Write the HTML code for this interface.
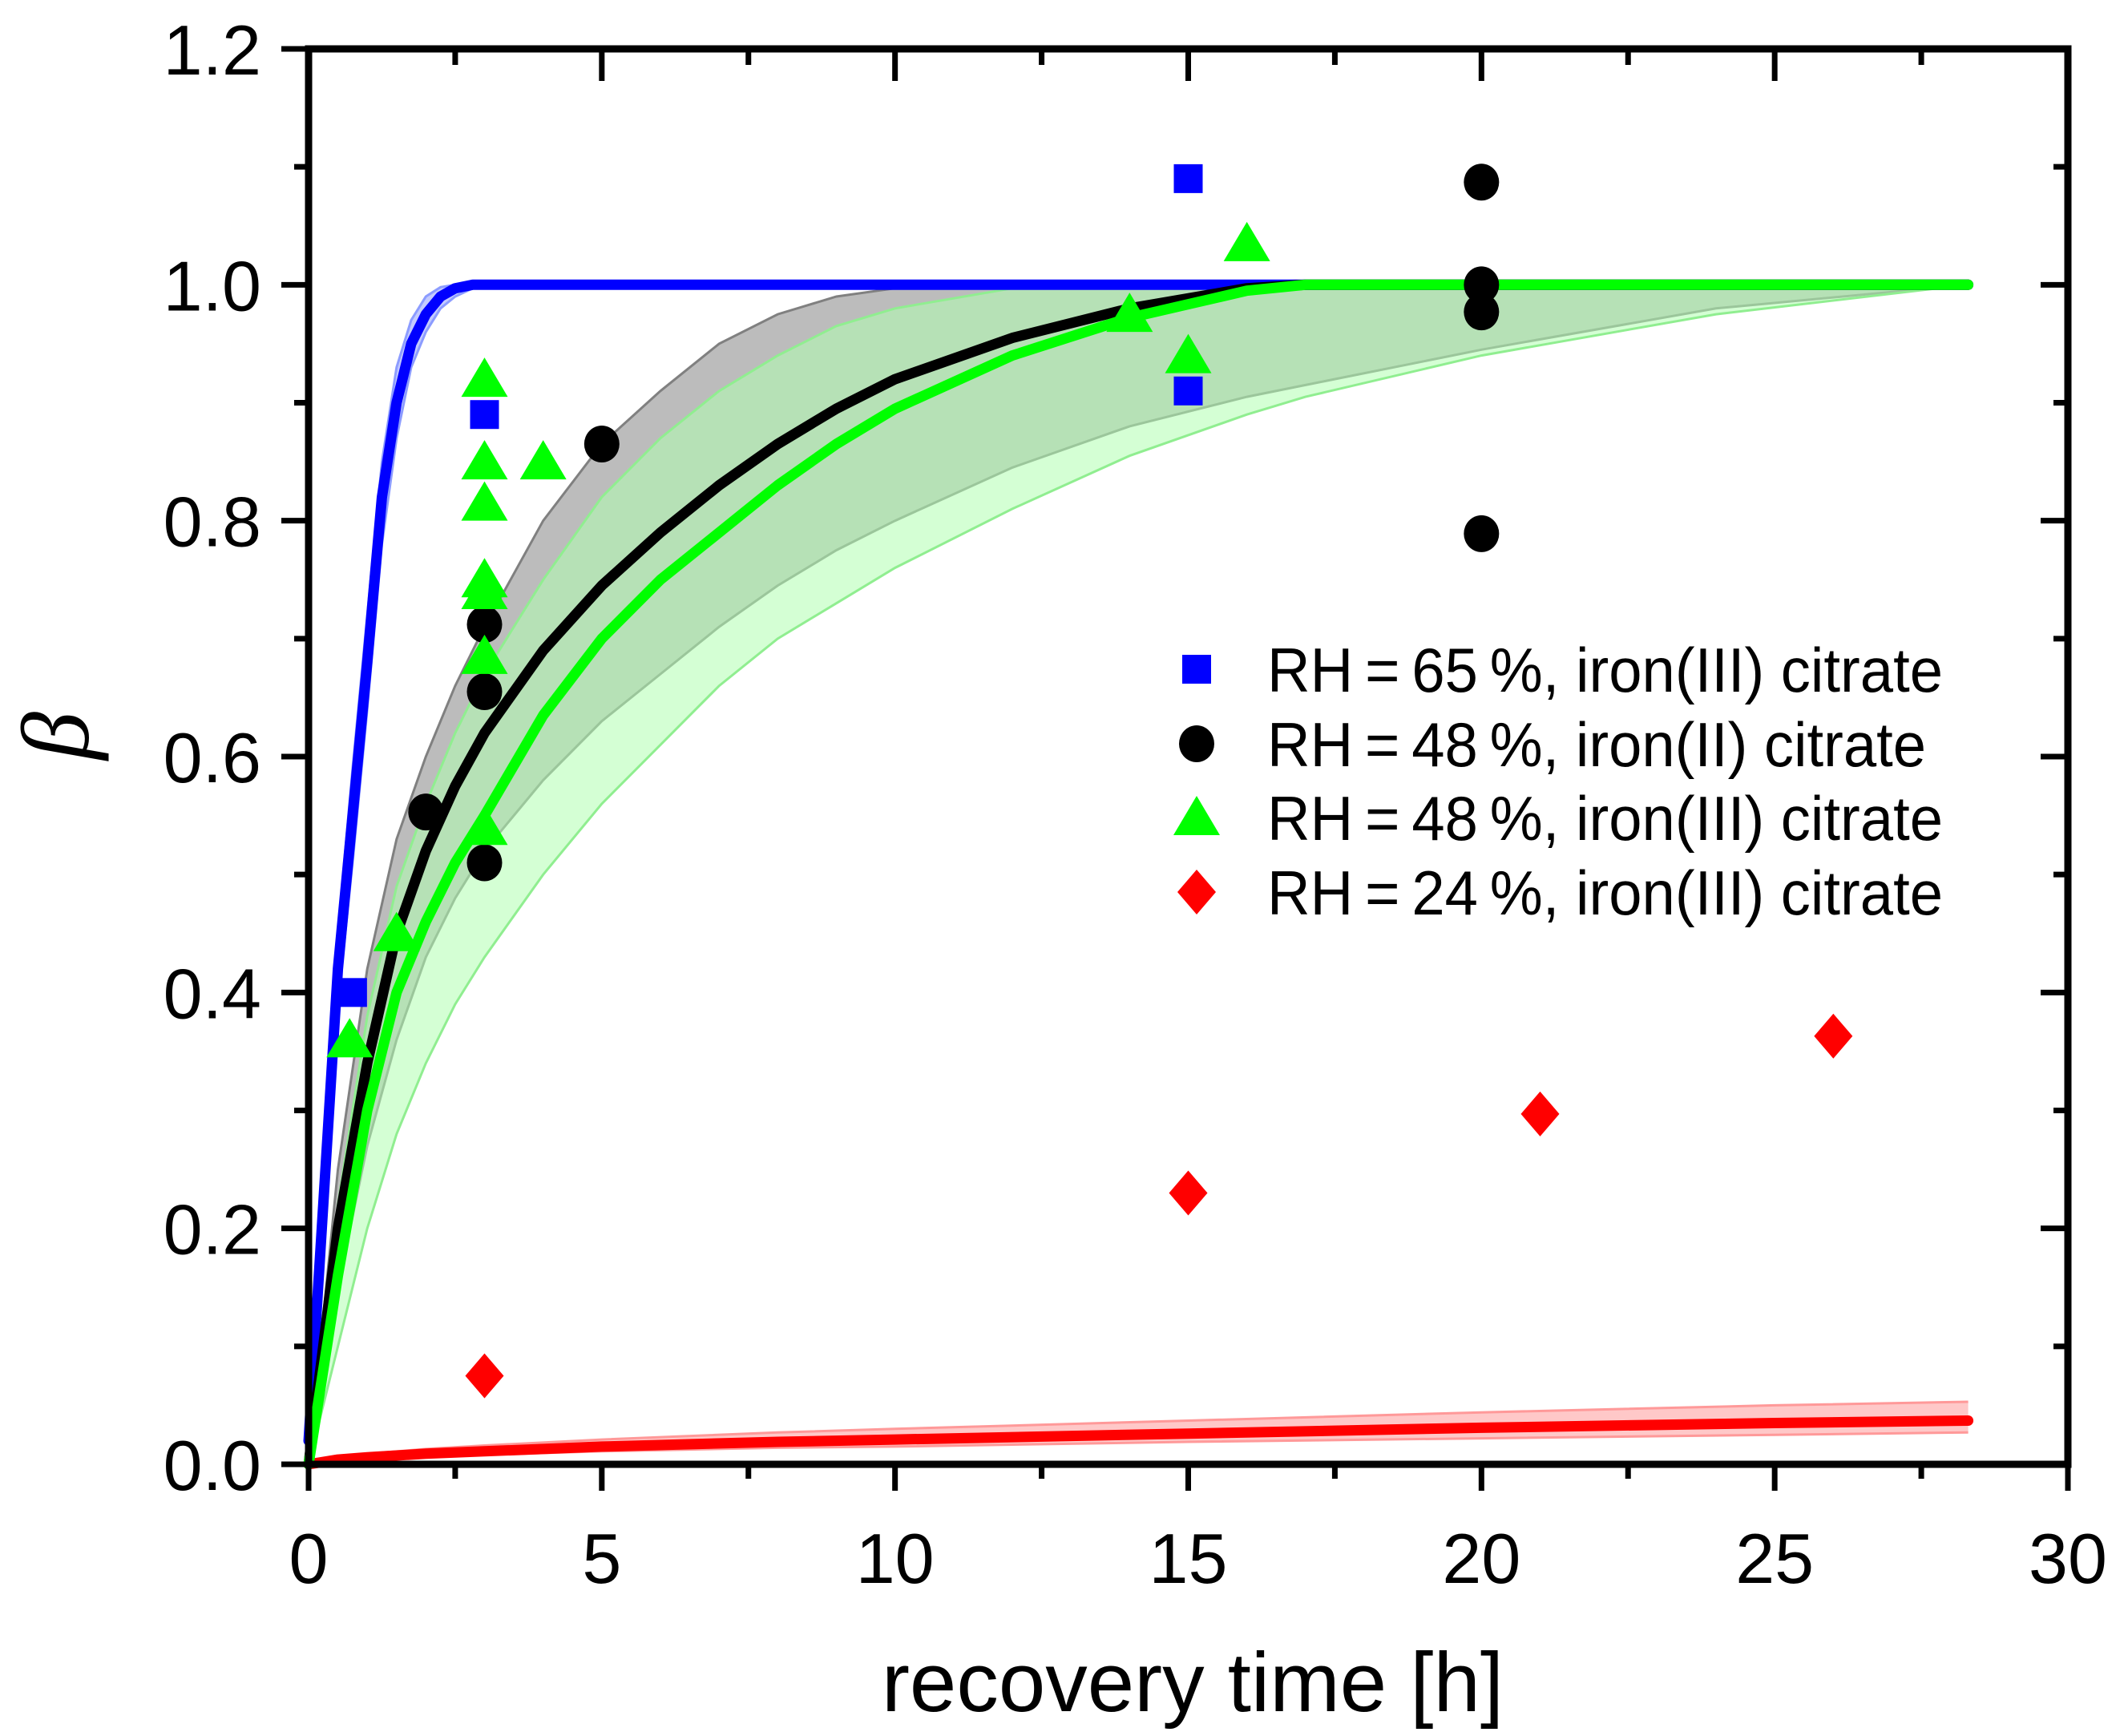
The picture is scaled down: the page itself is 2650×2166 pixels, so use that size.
<!DOCTYPE html>
<html><head><meta charset="utf-8"><style>html,body{margin:0;padding:0;background:#fff}svg{display:block}</style></head>
<body>
<svg id="chart" xmlns="http://www.w3.org/2000/svg" width="2650" height="2166" viewBox="0 0 2650 2166" font-family="Liberation Sans, Arial, sans-serif">
<g id="bands"></g><g id="curves"></g><g id="axes"></g><g id="points"></g><g id="legend"></g>
</svg>
<script>
const xTicks=[0,5,10,15,20,25,30];
const yTicks=[0.0,0.2,0.4,0.6,0.8,1.0,1.2];
const yTickLabels=["0.0","0.2","0.4","0.6","0.8","1.0","1.2"];
const blueT=[0,0.25,0.5,0.75,1.0,1.25,1.5,1.75,2.0,2.25,2.5,2.8,3.2,28.3];
const blueY=[0.02,0.22,0.42,0.55,0.68,0.82,0.9,0.95,0.975,0.99,0.997,1.0,1.0,1.0];
const blueUp=[0.02,0.24,0.45,0.59,0.72,0.85,0.93,0.97,0.99,0.998,1.0,1.0,1.0,1.0];
const blueLo=[0.02,0.2,0.39,0.51,0.64,0.78,0.87,0.93,0.96,0.98,0.99,0.997,1.0,1.0];
const bandT=[0,0.5,1,1.5,2,2.5,3,4,5,6,7,8,9,10,12,14,16,17,20,24,28.3];
const blackY=[0,0.2,0.34,0.45,0.52,0.575,0.62,0.69,0.745,0.79,0.83,0.865,0.895,0.92,0.955,0.98,0.997,1,1,1,1];
const blackUp=[0,0.25,0.42,0.53,0.6,0.66,0.71,0.8,0.865,0.91,0.95,0.975,0.99,0.997,1,1,1,1,1,1,1];
const blackLo=[0,0.15,0.27,0.36,0.43,0.48,0.52,0.58,0.63,0.67,0.71,0.745,0.775,0.8,0.845,0.88,0.905,0.915,0.945,0.98,1];
const greenY=[0,0.16,0.3,0.4,0.46,0.51,0.55,0.635,0.7,0.75,0.79,0.83,0.865,0.895,0.94,0.972,0.995,1,1,1,1];
const greenUp=[0,0.22,0.38,0.49,0.56,0.62,0.67,0.75,0.82,0.87,0.91,0.94,0.965,0.98,0.997,1,1,1,1,1,1];
const greenLo=[0,0.1,0.2,0.28,0.34,0.39,0.43,0.5,0.56,0.61,0.66,0.7,0.73,0.76,0.81,0.855,0.89,0.905,0.94,0.975,1];
const redT=[0,0.5,1,2,3,5,8,10,15,20,25,28.3];
const redY=[0,0.004,0.006,0.009,0.011,0.015,0.019,0.021,0.026,0.031,0.035,0.037];
const redUp=[0,0.006,0.009,0.013,0.016,0.021,0.027,0.03,0.037,0.044,0.05,0.053];
const redLo=[0,0.003,0.004,0.006,0.008,0.011,0.014,0.015,0.019,0.022,0.025,0.027];
const sqX=[0.75,3,15,15], sqY=[0.40,0.89,1.09,0.91];
const ciX=[2,3,3,3,5,20,20,20,20], ciY=[0.553,0.712,0.655,0.51,0.865,1.087,1.0,0.977,0.789];
const trX=[0.7,1.5,3,3,3,3,3,3,3,4,14,15,16], trY=[0.36,0.45,0.92,0.85,0.815,0.75,0.74,0.685,0.54,0.85,0.975,0.94,1.035];
const diX=[3,15,21,26], diY=[0.075,0.23,0.297,0.363];
const legendLabels=["RH\u2009=\u200965\u2009%, iron(III) citrate","RH\u2009=\u200948\u2009%, iron(II) citrate","RH\u2009=\u200948\u2009%, iron(III) citrate","RH\u2009=\u200924\u2009%, iron(III) citrate"];

const L=385,R=2580,T=61,B=1827;
const X=v=>L+(v/30)*(R-L), Y=v=>B-(v/1.2)*(B-T);
const NS="http://www.w3.org/2000/svg";
function mk(tag,attrs,parent){const e=document.createElementNS(NS,tag);for(const k in attrs)e.setAttribute(k,attrs[k]);parent.appendChild(e);return e;}
const gB=document.getElementById('bands'),gC=document.getElementById('curves'),gA=document.getElementById('axes'),gP=document.getElementById('points'),gL=document.getElementById('legend');
function line(ts,ys){return ts.map((t,i)=>(i?'L':'M')+X(t).toFixed(1)+','+Y(ys[i]).toFixed(1)).join('');}
function band(ts,up,lo){let d=line(ts,up);for(let i=ts.length-1;i>=0;i--)d+='L'+X(ts[i]).toFixed(1)+','+Y(lo[i]).toFixed(1);return d+'Z';}
function addBand(name,ts,up,lo,fill,op,edge){
 let e=mk('path',{d:band(ts,up,lo),fill:fill,'fill-opacity':op,stroke:'none'},gB);
 
 
 let u=mk('path',{d:line(ts,up),fill:'none',stroke:edge,'stroke-width':3},gB);
 
 
 let l=mk('path',{d:line(ts,lo),fill:'none',stroke:edge,'stroke-width':3},gB);
 
 
}
addBand('black-confidence-band',bandT,blackUp,blackLo,'#a0a0a0',0.7,'#808080');
addBand('green-confidence-band',bandT,greenUp,greenLo,'#b0ffb0',0.55,'#90ee90');
addBand('red-confidence-band',redT,redUp,redLo,'#ffb0b0',0.7,'#ff9999');
addBand('blue-confidence-band',blueT,blueUp,blueLo,'#aab4ff',0.7,'#8c9cff');
function addCurve(name,ts,ys,col){let e=mk('path',{d:line(ts,ys),fill:'none',stroke:col,'stroke-width':13,'stroke-linecap':'round','stroke-linejoin':'round'},gC);
 
 }
addCurve('red-fit-curve',redT,redY,'#ff0000');
addCurve('blue-fit-curve',blueT,blueY,'#0000ff');
addCurve('black-fit-curve',bandT,blackY,'#000000');
addCurve('green-fit-curve',bandT,greenY,'#00ff00');

let fr=mk('rect',{x:L,y:T,width:R-L,height:B-T,fill:'none',stroke:'#000','stroke-width':9},gA);


for(let i=0;i<=12;i++){const v=i*2.5,x=X(v),maj=i%2==0;
 let t1=mk('line',{x1:x,y1:B,x2:x,y2:B+(maj?33:18),stroke:'#000','stroke-width':7},gA);
 
 
 let t2=mk('line',{x1:x,y1:T,x2:x,y2:T+(maj?40:20),stroke:'#000','stroke-width':7},gA);
 
 }
xTicks.forEach(v=>{let t=mk('text',{x:X(v),y:1975,'font-size':88,'text-anchor':'middle'},gA);t.textContent=String(v);
 
 });
for(let i=0;i<=12;i++){const v=i*0.1,y=Y(v),maj=i%2==0;
 let t1=mk('line',{x1:L,y1:y,x2:L-(maj?34:18),y2:y,stroke:'#000','stroke-width':7},gA);
 
 
 let t2=mk('line',{x1:R,y1:y,x2:R-(maj?34:18),y2:y,stroke:'#000','stroke-width':7},gA);
 
 }
yTicks.forEach((v,i)=>{let t=mk('text',{x:326,y:Y(v)+32,'font-size':88,'text-anchor':'end'},gA);t.textContent=yTickLabels[i];
 
 });
let xt=mk('text',{x:1488,y:2135,'font-size':105,'text-anchor':'middle'},gA);xt.textContent='recovery time [h]';


let yt=mk('text',{x:0,y:0,'font-size':120,'font-style':'italic','font-family':'Liberation Serif, serif','text-anchor':'middle',transform:'translate(110,918) rotate(-90)'},gA);yt.textContent='β';



function square(cx,cy,p){return mk('rect',{x:cx-18,y:cy-18,width:36,height:36,fill:'#0000ff'},p);}
function circle(cx,cy,p){return mk('ellipse',{cx:cx,cy:cy,rx:22,ry:23,fill:'#000'},p);}
function tri(cx,cy,p){return mk('polygon',{points:`${cx},${cy-27} ${cx+29},${cy+22} ${cx-29},${cy+22}`,fill:'#00ff00'},p);}
function dia(cx,cy,p){return mk('polygon',{points:`${cx},${cy-28} ${cx+24},${cy} ${cx},${cy+28} ${cx-24},${cy}`,fill:'#ff0000'},p);}
sqX.forEach((v,i)=>{let e=square(X(v),Y(sqY[i]),gP);
 });
ciX.forEach((v,i)=>{let e=circle(X(v),Y(ciY[i]),gP);
 });
trX.forEach((v,i)=>{let e=tri(X(v),Y(trY[i]),gP);
 });
diX.forEach((v,i)=>{let e=dia(X(v),Y(diY[i]),gP);
 });
const shapes=[square,circle,tri,dia],baseY=[863,956,1048,1141],lens=[843,822,843,843];
legendLabels.forEach((s,i)=>{let m=shapes[i](1493,baseY[i]-28,gL);
 
 let t=mk('text',{x:1581,y:baseY[i],'font-size':78,textLength:lens[i],lengthAdjust:'spacingAndGlyphs'},gL);t.textContent=s;
 
 });
</script>
</body></html>
